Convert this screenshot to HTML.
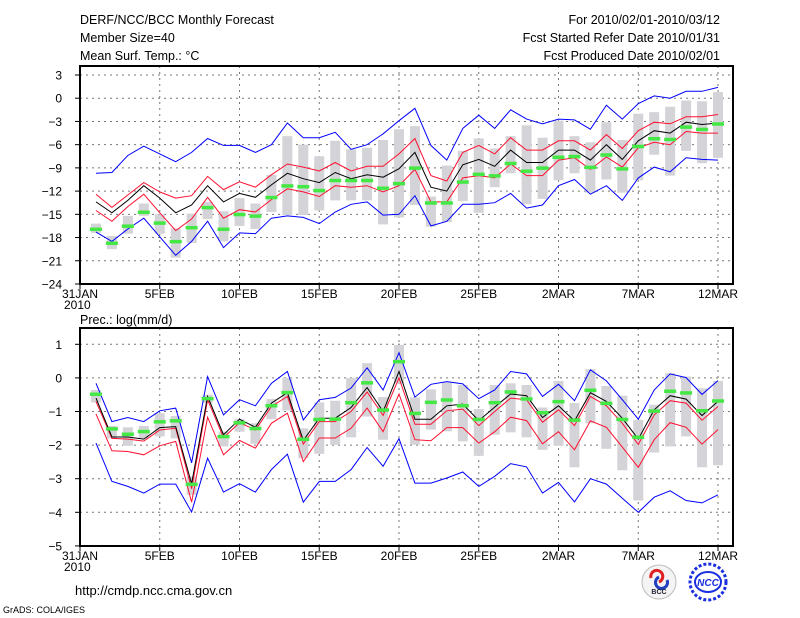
<!DOCTYPE html>
<html><head><meta charset="utf-8"><style>
html,body{margin:0;padding:0;background:#fff;}
svg{display:block;font-family:"Liberation Sans",sans-serif;}
</style></head><body>
<svg id="chart" width="800" height="618" viewBox="0 0 800 618" xmlns="http://www.w3.org/2000/svg">
<rect width="800" height="618" fill="#fff"/>
<g font-size="12.5" fill="#000">
<text x="80" y="24">DERF/NCC/BCC Monthly Forecast</text>
<text x="80" y="42">Member Size=40</text>
<text x="80" y="60">Mean Surf. Temp.: °C</text>
<text x="720" y="24" text-anchor="end">For 2010/02/01-2010/03/12</text>
<text x="720" y="42" text-anchor="end">Fcst Started Refer Date 2010/01/31</text>
<text x="720" y="60" text-anchor="end">Fcst Produced Date 2010/02/01</text>
<text x="80" y="324">Prec.: log(mm/d)</text>
</g>
<g id="top"></g>
<g id="bot"></g>
<text x="75" y="595" font-size="13">http://cmdp.ncc.cma.gov.cn</text>
<text x="3" y="613" font-size="9">GrADS: COLA/IGES</text>
<g>
<circle cx="659" cy="582" r="17" fill="#f4f4f4" stroke="#bbb"/>
<path d="M651 578 a6 6 0 1 1 8 4" fill="none" stroke="#e02020" stroke-width="3"/>
<path d="M667 580 a6 6 0 1 1 -8 -3" fill="none" stroke="#2040c0" stroke-width="3"/>
<text x="659" y="594" font-size="7" text-anchor="middle" font-weight="bold" fill="#223">BCC</text>
</g>
<g>
<circle cx="708" cy="582" r="18" fill="none" stroke="#1a2fe0" stroke-width="3" stroke-dasharray="3 2"/>
<ellipse cx="708" cy="582" rx="13" ry="10" fill="none" stroke="#1a2fe0" stroke-width="2"/>
<text x="708" y="586" font-size="10" text-anchor="middle" font-weight="bold" font-style="italic" fill="#1a2fe0">NCC</text>
</g>
</svg>
<script>
const xTickLabels = ["31JAN","5FEB","10FEB","15FEB","20FEB","25FEB","2MAR","7MAR","12MAR"];
const xTickDays = [0,5,10,15,20,25,30,35,40];
const tempTicks = [3,0,-3,-6,-9,-12,-15,-18,-21,-24];
const precTicks = [1,0,-1,-2,-3,-4,-5];

const tMax = [-9.7,-9.6,-7.4,-6.2,-7.2,-8.2,-7.0,-5.2,-6.1,-6.1,-7.0,-6.0,-3.2,-5.1,-5.1,-4.4,-6.6,-6.0,-4.6,-2.9,-1.3,-6.1,-8.0,-3.9,-2.2,-3.9,-1.5,-2.7,-3.3,-2.7,-2.8,-4.0,-0.9,-2.7,-0.7,0.3,0.0,0.9,0.9,1.4];
const tRedHi = [-12.4,-14.1,-12.5,-10.9,-12.1,-12.9,-12.6,-10.1,-11.8,-10.8,-11.5,-9.9,-8.5,-8.9,-9.4,-8.3,-9.4,-8.8,-8.8,-7.2,-5.2,-10.0,-10.7,-7.0,-6.1,-7.2,-5.1,-6.7,-6.7,-5.5,-5.5,-6.7,-4.7,-6.5,-4.2,-3.1,-3.3,-2.4,-2.4,-2.1];
const tMean = [-13.4,-14.8,-13.2,-11.3,-12.9,-14.8,-13.8,-11.3,-13.4,-12.3,-12.8,-11.2,-9.7,-10.4,-10.9,-9.6,-10.4,-9.9,-10.2,-9.1,-7.0,-11.5,-12.0,-8.6,-7.9,-8.8,-6.7,-8.3,-8.3,-6.7,-6.7,-8.0,-6.0,-7.9,-5.5,-4.2,-4.5,-3.1,-3.4,-3.2];
const tRedLo = [-14.5,-15.9,-14.0,-12.4,-14.8,-17.1,-15.6,-12.8,-15.5,-14.4,-14.7,-13.1,-11.7,-12.1,-12.7,-11.3,-11.5,-11.3,-12.1,-11.3,-9.2,-13.4,-13.4,-10.3,-10.0,-10.3,-8.5,-10.0,-10.0,-8.0,-7.7,-9.2,-7.6,-8.9,-6.4,-5.7,-6.0,-4.3,-4.5,-4.5];
const tMin = [-17.3,-18.5,-16.9,-15.5,-17.9,-20.3,-18.5,-15.9,-19.3,-17.4,-17.5,-15.5,-15.2,-15.4,-16.2,-14.7,-13.7,-13.4,-15.1,-15.0,-12.6,-16.5,-15.9,-13.7,-13.7,-13.5,-12.3,-14.2,-13.8,-11.3,-10.5,-12.4,-11.3,-13.2,-10.3,-8.9,-9.5,-7.7,-7.9,-8.0];
const tBoxTop = [-16.2,-17.8,-15.2,-13.6,-15.0,-16.8,-14.9,-13.4,-14.6,-12.9,-13.6,-9.9,-4.9,-6.0,-7.5,-5.5,-6.6,-6.4,-5.4,-4.0,-3.6,-12.7,-8.7,-6.8,-5.2,-6.5,-4.9,-3.5,-5.1,-2.9,-4.9,-5.7,-3.1,-5.4,-2.0,-1.8,-1.1,-0.3,-0.4,0.8];
const tBoxBot = [-17.4,-19.5,-17.5,-15.2,-17.5,-20.6,-18.7,-15.6,-18.5,-16.5,-16.9,-14.7,-15.1,-15.1,-14.5,-13.2,-13.2,-13.2,-16.3,-15.4,-13.8,-16.6,-16.0,-13.3,-14.8,-11.5,-9.7,-13.7,-13.0,-10.6,-9.7,-12.2,-10.5,-12.2,-10.6,-7.3,-10.0,-6.8,-8.4,-7.7];
const tObs = [-16.9,-18.7,-16.5,-14.7,-16.1,-18.5,-16.7,-14.1,-16.9,-15.0,-15.2,-12.8,-11.3,-11.4,-11.9,-10.6,-10.6,-10.6,-11.6,-11.0,-9.0,-13.5,-13.5,-10.8,-9.8,-10.0,-8.4,-9.4,-9.0,-7.6,-7.5,-8.9,-7.3,-9.1,-6.2,-5.2,-5.3,-3.7,-4.0,-3.3];

const pMax = [-0.16,-1.3,-1.18,-1.3,-0.98,-0.9,-2.53,0.04,-1.1,-0.65,-0.83,-0.16,0.19,-1.25,-0.65,-0.58,-0.3,0.3,-0.36,0.75,-0.57,-0.19,-0.11,-0.18,-0.62,-0.36,0.19,0.12,-0.55,-0.19,-0.68,0.24,-0.09,-0.65,-1.23,-0.36,0.12,0.01,-0.49,-0.08];
const pRedHi = [-0.7,-1.8,-1.82,-1.88,-1.55,-1.5,-3.3,-0.65,-1.78,-1.33,-1.55,-0.85,-0.55,-1.97,-1.3,-1.3,-1.0,-0.42,-1.12,0.0,-1.38,-1.38,-0.98,-0.93,-1.42,-1.0,-0.6,-0.65,-1.32,-0.95,-1.42,-0.55,-0.83,-1.35,-1.98,-1.1,-0.68,-0.75,-1.26,-0.85];
const pMean = [-0.6,-1.76,-1.76,-1.82,-1.48,-1.45,-3.15,-0.55,-1.69,-1.23,-1.47,-0.75,-0.44,-1.86,-1.2,-1.2,-0.88,-0.29,-1.0,0.19,-1.23,-1.23,-0.83,-0.78,-1.27,-0.87,-0.48,-0.53,-1.18,-0.83,-1.28,-0.44,-0.7,-1.2,-1.82,-0.95,-0.53,-0.63,-1.12,-0.7];
const pRedLo = [-1.07,-2.17,-2.19,-2.29,-2.02,-1.89,-3.7,-1.17,-2.29,-1.86,-2.09,-1.35,-1.05,-2.49,-1.79,-1.79,-1.5,-0.9,-1.6,-0.48,-1.84,-1.87,-1.48,-1.48,-1.94,-1.6,-1.17,-1.27,-1.96,-1.6,-2.14,-1.28,-1.47,-2.06,-2.66,-1.84,-1.33,-1.47,-1.97,-1.54];
const pMin = [-1.94,-3.08,-3.23,-3.43,-3.16,-3.16,-3.99,-2.39,-3.4,-3.15,-3.4,-2.73,-2.27,-3.7,-3.08,-3.08,-2.73,-2.07,-2.63,-1.81,-3.13,-3.13,-2.98,-2.8,-3.23,-2.93,-2.55,-2.65,-3.43,-3.11,-3.69,-3.0,-3.16,-3.58,-4.0,-3.55,-3.36,-3.65,-3.72,-3.48];
const pBoxTop = [-0.36,-1.43,-1.47,-1.43,-1.05,-1.13,-2.93,-0.5,-1.6,-1.23,-1.35,-0.63,0.0,-1.5,-0.73,-0.68,0.0,0.44,-0.57,0.98,-0.58,-0.34,-0.14,-0.21,-0.93,-0.21,-0.16,-0.21,-0.88,-0.09,-0.75,0.26,-0.24,-0.53,-1.25,-0.8,0.14,0.04,-0.31,-0.09];
const pBoxBot = [-0.73,-1.8,-2.02,-1.8,-1.74,-1.8,-3.48,-0.75,-2.04,-1.6,-1.96,-1.23,-0.97,-2.39,-2.26,-1.99,-1.77,-1.15,-1.84,-0.16,-1.99,-1.54,-1.59,-1.89,-2.32,-1.69,-1.62,-1.77,-2.14,-2.02,-2.66,-1.35,-2.11,-2.75,-3.65,-2.22,-2.04,-1.74,-2.66,-2.6];
const pObs = [-0.48,-1.51,-1.67,-1.59,-1.3,-1.27,-3.16,-0.61,-1.74,-1.33,-1.5,-0.82,-0.43,-1.82,-1.23,-1.22,-0.73,-0.14,-0.95,0.49,-1.05,-0.72,-0.65,-0.82,-1.23,-0.73,-0.41,-0.62,-1.03,-0.7,-1.25,-0.36,-0.75,-1.23,-1.76,-0.98,-0.39,-0.44,-0.97,-0.68];

const NS = "http://www.w3.org/2000/svg";
const X0 = 80, X1 = 733, DAYW = 15.95;
function xDay(d){ return X0 + d*DAYW; }
function mk(parent, tag, attrs){
  const e = document.createElementNS(NS, tag);
  for (const k in attrs) e.setAttribute(k, attrs[k]);
  parent.appendChild(e); return e;
}

function drawPanel(g, cfg){
  const yTop = cfg.yTop, yBot = cfg.yBot;
  const yScale = v => cfg.y0 + (cfg.v0 - v) * cfg.pxPerUnit;
  cfg.ticks.forEach(t => {
    const y = yScale(t);
    if (t !== cfg.ticks[cfg.ticks.length-1]) {
      const l = mk(g, "line", {x1:X0, x2:X1, y1:y, y2:y, stroke:"#777", "stroke-width":1, "stroke-dasharray":"2 4"});
      
      
    }
    const tk = mk(g, "line", {x1:X0-5, x2:X0, y1:y, y2:y, stroke:"#000", "stroke-width":1});
    
    
    const tx = mk(g, "text", {x:X0-18, y:y+4.5, "font-size":12, "text-anchor":"end"});
    tx.textContent = t < 0 ? "\u2212" + Math.abs(t) : String(t);
    
    
  });
  xTickDays.forEach((d, i) => {
    const x = xDay(d);
    if (d > 0) {
      const l = mk(g, "line", {x1:x, x2:x, y1:yTop, y2:yBot, stroke:"#777", "stroke-width":1, "stroke-dasharray":"2 4"});
      
      
    }
    const tk = mk(g, "line", {x1:x, x2:x, y1:yBot, y2:yBot+5, stroke:"#000", "stroke-width":1});
    
    
    const tx = mk(g, "text", {x:x, y:yBot+14, "font-size":12, "text-anchor":"middle"});
    tx.textContent = xTickLabels[i];
    
    
  });
  const yr = mk(g, "text", {x:xDay(0)-16, y:yBot+25, "font-size":12});
  yr.textContent = "2010";
  
  

  cfg.boxTop.forEach((top, i) => {
    const x = xDay(i+1);
    const y1 = yScale(top), y2 = yScale(cfg.boxBot[i]);
    const r = mk(g, "rect", {x:x-5, y:Math.min(y1,y2), width:10, height:Math.abs(y2-y1), fill:"#d4d4d8"});
    
    
  });
  const series = [[cfg.min,"#0000ff","min-line"],[cfg.max,"#0000ff","max-line"],[cfg.redLo,"#ff1030","lower-percentile-line"],[cfg.redHi,"#ff1030","upper-percentile-line"],[cfg.mean,"#000","ensemble-mean-line"]];
  series.forEach(s => {
    const pts = s[0].map((v,i) => xDay(i+1).toFixed(1)+","+yScale(v).toFixed(1)).join(" ");
    const p = mk(g, "polyline", {points:pts, fill:"none", stroke:s[1], "stroke-width":1});
    
    
  });
  cfg.obs.forEach((v, i) => {
    const x = xDay(i+1);
    const r = mk(g, "rect", {x:x-6, y:yScale(v)-1.5, width:12, height:3.5, fill:"#44e844"});
    
    
  });
  const b = mk(g, "rect", {x:X0, y:yTop, width:X1-X0, height:yBot-yTop, fill:"none", stroke:"#000", "stroke-width":2});
  
  
}

drawPanel(document.getElementById("top"), {yTop:66, yBot:284, y0:75, v0:3, pxPerUnit:7.74, ticks:tempTicks,
  max:tMax, redHi:tRedHi, mean:tMean, redLo:tRedLo, min:tMin, boxTop:tBoxTop, boxBot:tBoxBot, obs:tObs});
drawPanel(document.getElementById("bot"), {yTop:328, yBot:546, y0:344.3, v0:1, pxPerUnit:33.6, ticks:precTicks,
  max:pMax, redHi:pRedHi, mean:pMean, redLo:pRedLo, min:pMin, boxTop:pBoxTop, boxBot:pBoxBot, obs:pObs});
</script>
</body></html>
